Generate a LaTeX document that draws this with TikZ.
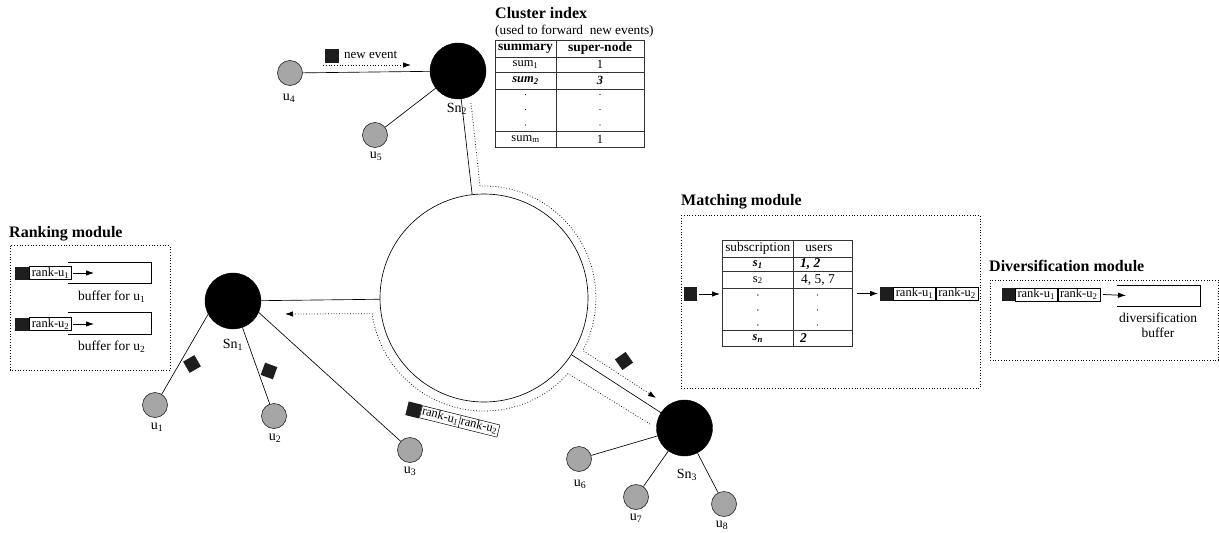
\documentclass[tikz,border=0pt]{standalone}
\usepackage{fontspec}
\setmainfont{Liberation Serif}
\usetikzlibrary{arrows.meta}
\definecolor{ugray}{RGB}{166,166,166}
\definecolor{evblack}{RGB}{30,30,30}
\begin{document}
\begin{tikzpicture}[x=1pt,y=-1pt,
  supernode/.style={circle, fill=black, draw=black, minimum size=56pt, inner sep=0pt},
  user/.style={circle, fill=ugray, draw=black!85, line width=0.6pt, minimum size=25pt, inner sep=0pt},
  link/.style={line width=0.65pt},
  flow/.style={dotted, line width=0.75pt, -{Latex[length=8pt,width=5.5pt]}},
  arr/.style={line width=0.75pt, -{Latex[length=8pt,width=5.5pt]}},
  evtsq/.style={rectangle, fill=evblack, minimum width=13pt, minimum height=13pt, inner sep=0pt},
  rankbox/.style={rectangle, draw, fill=white, line width=0.5pt, minimum height=13pt, minimum width=42pt, inner sep=0.3pt, font=\fontsize{12.5}{13}\selectfont},
  modbox/.style={dotted, line width=0.75pt},
  modtitle/.style={anchor=base west, inner sep=0pt, font=\fontsize{16}{18}\selectfont\bfseries},
  ulabel/.style={inner sep=0pt, font=\fontsize{14}{15}\selectfont},
  snlabel/.style={inner sep=0pt, font=\fontsize{14}{15}\selectfont},
  small/.style={inner sep=0pt, font=\fontsize{13.5}{15}\selectfont},
  cell/.style={inner sep=0pt, font=\fontsize{12.5}{13}\selectfont},
  tline/.style={line width=0.75pt, draw=black!80},
  dotmark/.style={circle, fill=black, minimum size=1.4pt, inner sep=0pt}
]
\useasboundingbox (0,0) rectangle (1219,533);

% ring
\node[circle, draw, line width=0.65pt, minimum size=208pt, inner sep=0pt] (ring) at (484,298) {};

% super-nodes
\node[supernode] (Sn2) at (458,71) {};
\node[supernode] (Sn1) at (233,301) {};
\node[supernode] (Sn3) at (684.5,428) {};
\node[snlabel] at (457,109) {Sn\textsubscript{2}};
\node[snlabel] at (233,345) {Sn\textsubscript{1}};
\node[snlabel] at (687,475) {Sn\textsubscript{3}};

% users
\node[user] (u4) at (290,73) {};
\node[user] (u5) at (375,135) {};
\node[user] (u1) at (155,405) {};
\node[user] (u2) at (274,416) {};
\node[user] (u3) at (410,450) {};
\node[user] (u6) at (579,459) {};
\node[user] (u7) at (636,497) {};
\node[user] (u8) at (724,504) {};
\node[ulabel] at (289,98) {u\textsubscript{4}};
\node[ulabel] at (376,156) {u\textsubscript{5}};
\node[ulabel] at (157,427) {u\textsubscript{1}};
\node[ulabel] at (275,438) {u\textsubscript{2}};
\node[ulabel] at (410,471) {u\textsubscript{3}};
\node[ulabel] at (580,484) {u\textsubscript{6}};
\node[ulabel] at (636,518) {u\textsubscript{7}};
\node[ulabel] at (722,525) {u\textsubscript{8}};

% links
\draw[link] (u4) -- (Sn2);
\draw[link] (u5) -- (Sn2);
\draw[link] (Sn2) -- (ring);
\draw[link] (Sn1) -- (ring);
\draw[link] (Sn3) -- (ring);
\draw[link] (Sn1.208) -- (u1.58);
\draw[link] (Sn1) -- (u2);
\draw[link] (Sn1.-24) -- (u3.137);
\draw[link] (Sn3) -- (u6);
\draw[link] (Sn3) -- (u7);
\draw[link] (Sn3) -- (u8);

% new event
\node[evtsq, minimum width=14pt, minimum height=14pt] (nev) at (332,56) {};
\node[small, anchor=west, font=\fontsize{13}{14}\selectfont] at (344,55) {new event};
\coordinate (ne1) at (323,65);
\coordinate (ne2) at (411,65);
\draw[flow] (ne1) -- (ne2);

% dotted routes around the ring
\coordinate (ra) at (471,103);
\coordinate (rb) at (480,186);
\coordinate (rc) at (656,398);
\draw[flow] (ra) -- (rb) arc[start angle=-92, end angle=28, radius=112] -- (rc);
\coordinate (la) at (650,424);
\coordinate (lb) at (568,373.6);
\coordinate (lc) at (285,314);
\draw[flow] (la) -- (lb) arc[start angle=42, end angle=172, radius=113] -- (lc);

% events on links
\node[evtsq, rotate=30] (e1) at (192,364) {};
\node[evtsq, rotate=-20] (e2) at (269,371) {};
\node[evtsq, rotate=35] (e3) at (624,361) {};

% rotated message
\begin{scope}[shift={(414,410)}, rotate=-14, transform shape]
  \node[inner sep=0pt, fill=white, anchor=west, font=\fontsize{12.5}{13}\selectfont] (m1) at (7,0)
    {\setlength{\tabcolsep}{1.2pt}\renewcommand{\arraystretch}{0.85}\setlength{\arrayrulewidth}{0.5pt}%
     \begin{tabular}{|c|c|}\hline rank-u\textsubscript{1} & rank-u\textsubscript{2}\\\hline\end{tabular}};
  \node[evtsq, minimum width=14pt, minimum height=14pt, anchor=east] (m0) at (m1.west) {};
\end{scope}

% ---------------- Cluster index ----------------
\node[modtitle] at (495,18.5) {Cluster index};
\node[small, anchor=base west, font=\fontsize{13.3}{14}\selectfont] at (495,34) {(used to forward\ \ new events)};
\draw[tline] (495,40) rectangle (644,147);
\foreach \yy in {57,72,89,131} \draw[tline] (495,\yy) -- (644,\yy);
\draw[tline] (556,40) -- (556,147);
\node[cell, font=\fontsize{13.5}{14}\selectfont\bfseries] at (525.5,48.5) {summary};
\node[cell, font=\fontsize{13.5}{14}\selectfont\bfseries] at (600,48.5) {super-node};
\node[cell] at (525.5,64.5) {sum\textsubscript{1}};
\node[cell] at (600,64.5) {1};
\node[cell] at (525.5,80.5) {\textbf{\textit{sum\textsubscript{2}}}};
\node[cell] at (600,80.5) {\textbf{\textit{3}}};
\foreach \yy in {94.5,109.5,125} {
  \node[dotmark] at (525.5,\yy) {};
  \node[dotmark] at (600,\yy) {};
}
\node[cell] at (525.5,139) {sum\textsubscript{m}};
\node[cell] at (600,139) {1};

% ---------------- Ranking module ----------------
\node[modtitle] at (9,237) {Ranking module};
\draw[modbox] (10,245.7) rectangle (170,370);
\node[rankbox, anchor=west] (ra1) at (29.3,273) {rank-u\textsubscript{1}};
\node[evtsq, minimum width=14pt, anchor=east] (rs1) at (ra1.west) {};
\coordinate (rt1) at (94,273);
\draw[arr] ([xshift=1.5pt]ra1.east) -- (rt1);
\draw[line width=0.75pt] (68.3,262.3) -- (151.7,262.3) -- (151.7,283.3) -- (68.3,283.3);
\node[small] at (111.7,296.7) {buffer for u\textsubscript{1}};
\node[rankbox, anchor=west] (ra2) at (29.3,324) {rank-u\textsubscript{2}};
\node[evtsq, minimum width=14pt, anchor=east] (rs2) at (ra2.west) {};
\coordinate (rt2) at (94,324);
\draw[arr] ([xshift=1.5pt]ra2.east) -- (rt2);
\draw[line width=0.75pt] (68.3,312.6) -- (151.7,312.6) -- (151.7,334) -- (68.3,334);
\node[small] at (111.7,346.7) {buffer for u\textsubscript{2}};

% ---------------- Matching module ----------------
\node[modtitle] at (681,205) {Matching module};
\draw[modbox] (681,215) rectangle (980,388);
\node[evtsq, minimum width=13pt, minimum height=14pt] (ms) at (690.3,294) {};
\coordinate (mt) at (720,294);
\draw[arr] (ms.east) ++(1.5,0) -- (mt);
\draw[tline] (722.3,240) rectangle (852.7,346.7);
\foreach \yy in {257.3,271.7,288.3,330} \draw[tline] (722.3,\yy) -- (852.7,\yy);
\draw[tline] (793.3,240) -- (793.3,346.7);
\node[cell, font=\fontsize{13.3}{14}\selectfont] at (757.8,248.7) {subscription};
\node[cell, font=\fontsize{13.3}{14}\selectfont] at (819,248.7) {users};
\node[cell] at (757.8,264.5) {\textbf{\textit{s\textsubscript{1}}}};
\node[cell, anchor=west, font=\fontsize{13.5}{14}\selectfont] at (800,264.5) {\textbf{\textit{1, 2}}};
\node[cell] at (757.8,280) {s\textsubscript{2}};
\node[cell, anchor=west, font=\fontsize{13.5}{14}\selectfont] at (801,280) {4, 5, 7};
\foreach \yy in {295,310,325} {
  \node[dotmark] at (757.8,\yy) {};
  \node[dotmark] at (817.5,\yy) {};
}
\node[cell] at (757.8,338.3) {\textbf{\textit{s\textsubscript{n}}}};
\node[cell, anchor=west, font=\fontsize{13.5}{14}\selectfont] at (800,338) {\textbf{\textit{2}}};
\coordinate (mo1) at (857,293.5);
\node[rankbox, anchor=west] (mr1) at (893.3,293.5) {rank-u\textsubscript{1}};
\node[rankbox, anchor=west] (mr2) at (mr1.east) {rank-u\textsubscript{2}};
\node[evtsq, minimum width=13.3pt, minimum height=14pt, anchor=east] (mos) at (mr1.west) {};
\draw[arr] (mo1) -- ([xshift=-1.5pt]mos.west);

% ---------------- Diversification module ----------------
\node[modtitle] at (989,271) {Diversification module};
\draw[modbox] (990,280) rectangle (1218,360);
\node[rankbox, anchor=west] (dr1) at (1015,294.5) {rank-u\textsubscript{1}};
\node[rankbox, anchor=west] (dr2) at (dr1.east) {rank-u\textsubscript{2}};
\node[evtsq, minimum width=13.3pt, anchor=east] (ds) at (dr1.west) {};
\coordinate (dt) at (1126,295.5);
\draw[arr] ([xshift=3pt]dr2.east) -- (dt);
\draw[line width=0.75pt] (1116.7,285) -- (1200,285) -- (1200,306) -- (1116.7,306);
\node[small] at (1158,318.3) {diversification};
\node[small] at (1158,333.3) {buffer};

\end{tikzpicture}
\end{document}
